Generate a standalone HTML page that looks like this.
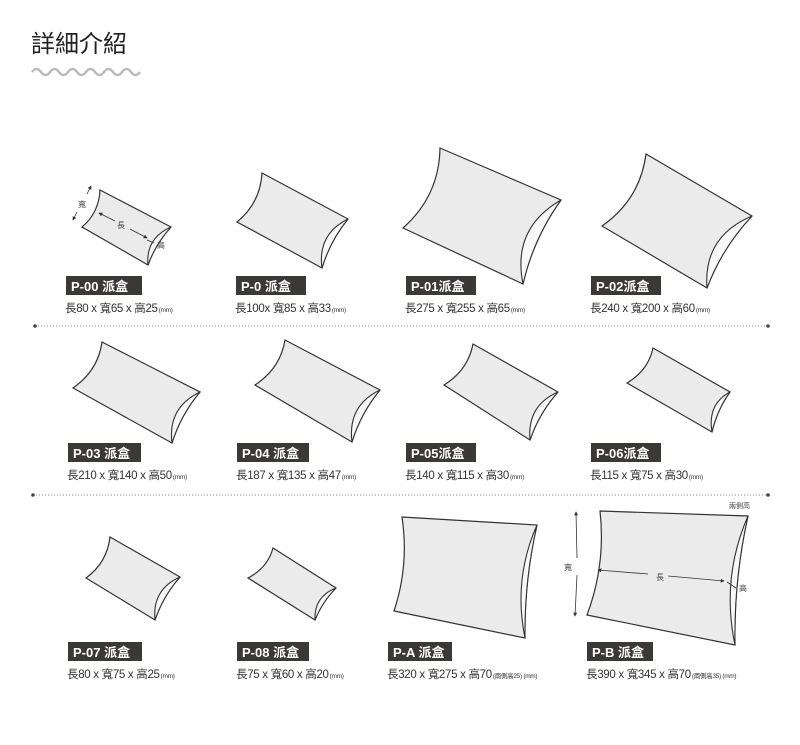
<!DOCTYPE html>
<html><head><meta charset="utf-8">
<style>
html,body{margin:0;padding:0;background:#fff;}
body{width:800px;height:745px;overflow:hidden;position:relative;font-family:"Liberation Sans","Noto Sans CJK TC",sans-serif;}
svg{position:absolute;left:0;top:0;}
</style></head><body>
<svg id="s" width="800" height="745" viewBox="0 0 800 745" xmlns="http://www.w3.org/2000/svg">
<defs><marker id="a" viewBox="0 0 6 6" refX="5" refY="3" markerWidth="5" markerHeight="5" orient="auto-start-reverse"><path d="M0 0L6 3L0 6Z" fill="#333"/></marker></defs>
<text x="31" y="52" font-size="24" fill="#222" font-family="'Liberation Sans','Noto Sans CJK TC',sans-serif">詳細介紹</text>
<path d="M32 72 q4.5 -6 9 0 t9 0 t9 0 t9 0 t9 0 t9 0 t9 0 t9 0 t9 0 t9 0 t9 0 t9 0" fill="none" stroke="#bbb" stroke-width="2.5"/>
<line x1="35" y1="326" x2="768" y2="326" stroke="#888" stroke-width="1" stroke-dasharray="1,2"/>
<circle cx="35" cy="326" r="1.8" fill="#444"/><circle cx="768" cy="326" r="1.8" fill="#444"/>
<line x1="33" y1="495" x2="768" y2="495" stroke="#888" stroke-width="1" stroke-dasharray="1,2"/>
<circle cx="33" cy="495" r="1.8" fill="#444"/><circle cx="768" cy="495" r="1.8" fill="#444"/>
<g id="boxes"></g>
<g id="labels" font-family="'Liberation Sans','Noto Sans CJK TC',sans-serif"></g>
<g font-family="'Liberation Sans','Noto Sans CJK TC',sans-serif" font-size="8" fill="#444" stroke-width="0.8">
<line x1="91" y1="186" x2="87" y2="194" stroke="#333" marker-start="url(#a)"/>
<line x1="77" y1="212" x2="73" y2="220" stroke="#333" marker-end="url(#a)"/>
<text x="78" y="207">寬</text>
<line x1="99" y1="213" x2="115" y2="221" stroke="#333" marker-start="url(#a)"/>
<line x1="130" y1="229" x2="147" y2="238" stroke="#333" marker-end="url(#a)"/>
<text x="117" y="228">長</text>
<line x1="147" y1="240" x2="154" y2="243" stroke="#333"/>
<text x="157" y="248">高</text>
<line x1="576" y1="512" x2="577" y2="558" stroke="#333" marker-start="url(#a)"/>
<line x1="577" y1="575" x2="575" y2="616" stroke="#333" marker-end="url(#a)"/>
<text x="564" y="570">寬</text>
<line x1="598" y1="570" x2="648" y2="574" stroke="#333" marker-start="url(#a)"/>
<line x1="668" y1="576" x2="724" y2="581" stroke="#333" marker-end="url(#a)"/>
<text x="656" y="580">長</text>
<line x1="727" y1="582" x2="736" y2="588" stroke="#333"/>
<text x="739" y="591">高</text>
<text x="729" y="508" font-size="7">兩側高</text>
</g>
</svg>
<script>
var boxes=[
[[100,190],[171,227],[148,265],[82,227]],
[[262,173],[348,219],[322,268],[237,222]],
[[440,148],[561,200],[523,284],[403,228]],
[[646,154],[752,216],[707,288],[602,226]],
[[102,342],[200,392],[172,443],[73,388]],
[[285,340],[380,390],[352,442],[255,385]],
[[473,344],[558,392],[530,440],[444,385]],
[[653,348],[730,392],[712,432],[627,383]],
[[110,537],[180,577],[155,620],[86,578]],
[[273,548],[336,588],[315,620],[248,578]],
[[402,517],[537,525],[525,638],[394,611]],
[[600,511],[748,516],[735,645],[587,615]]
];
var g=document.getElementById('boxes'),h='';
function ctrl(a,b,c,amt){var mx=(a[0]+b[0])/2,my=(a[1]+b[1])/2,dx=c[0]-mx,dy=c[1]-my,l=Math.hypot(dx,dy);return [mx+dx/l*amt,my+dy/l*amt];}
boxes.forEach(function(b,i){
var cx=(b[0][0]+b[1][0]+b[2][0]+b[3][0])/4,cy=(b[0][1]+b[1][1]+b[2][1]+b[3][1])/4,c=[cx,cy];
var len=Math.hypot(b[2][0]-b[1][0],b[2][1]-b[1][1]);
var llen=Math.hypot(b[0][0]-b[3][0],b[0][1]-b[3][1]);
var big=i>=10;
var r1=ctrl(b[1],b[2],c,big?len*0.06:len*0.1),r2=ctrl(b[1],b[2],c,big?len*0.16:len*0.36);
var l1=ctrl(b[3],b[0],c,big?llen*0.12:llen*0.22);
h+='<path d="M'+b[0]+' L'+b[1]+' Q'+r1+' '+b[2]+' L'+b[3]+' Q'+l1+' '+b[0]+'Z" fill="#ebebeb" stroke="#333" stroke-width="1.2"/>';
h+='<path d="M'+b[1]+' Q'+r2+' '+b[2]+' Q'+r1+' '+b[1]+'Z" fill="#f8f8f8" stroke="#333" stroke-width="1.1"/>';
});
g.innerHTML=h;
var labels=[
[66,276,76,'P-00 派盒','長80 x 寬65 x 高25','(mm)'],
[236,276,70,'P-0 派盒','長100x 寬85 x 高33','(mm)'],
[406,276,70,'P-01派盒','長275 x 寬255 x 高65','(mm)'],
[591,276,70,'P-02派盒','長240 x 寬200 x 高60','(mm)'],
[68,443,73,'P-03 派盒','長210 x 寬140 x 高50','(mm)'],
[237,443,72,'P-04 派盒','長187 x 寬135 x 高47','(mm)'],
[406,443,70,'P-05派盒','長140 x 寬115 x 高30','(mm)'],
[591,443,70,'P-06派盒','長115 x 寬75 x 高30','(mm)'],
[68,642,74,'P-07 派盒','長80 x 寬75 x 高25','(mm)'],
[237,642,72,'P-08 派盒','長75 x 寬60 x 高20','(mm)'],
[388,642,64,'P-A 派盒','長320 x 寬275 x 高70','(兩側高25) (mm)'],
[587,642,66,'P-B 派盒','長390 x 寬345 x 高70','(兩側高35) (mm)']
];
var lh='';
labels.forEach(function(l){
lh+='<rect x="'+l[0]+'" y="'+l[1]+'" width="'+l[2]+'" height="19" fill="#3b3838"/>';
lh+='<text x="'+(l[0]+5)+'" y="'+(l[1]+15)+'" font-size="13" font-weight="bold" fill="#fff">'+l[3]+'</text>';
lh+='<text x="'+(l[0]-1)+'" y="'+(l[1]+36)+'" font-size="11.5" fill="#333" letter-spacing="-0.3">'+l[4]+'<tspan font-size="6.5" dx="1">'+l[5]+'</tspan></text>';
});
document.getElementById('labels').innerHTML=lh;
</script>
</body></html>
